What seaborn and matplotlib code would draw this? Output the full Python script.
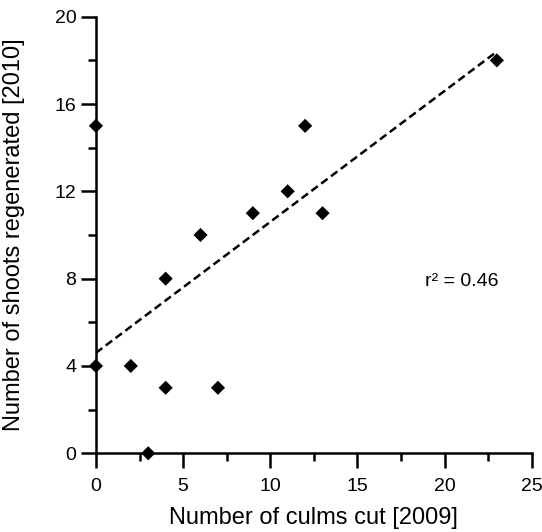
import matplotlib
matplotlib.use("Agg")
import matplotlib.pyplot as plt
import seaborn as sns
import pandas as pd
from matplotlib.ticker import MultipleLocator

# Data
culms_cut = [0, 0, 2, 3, 4, 4, 6, 7, 9, 11, 12, 13, 23]
shoots_regen = [15, 4, 4, 0, 8, 3, 10, 3, 11, 12, 15, 11, 18]
trend_x = [0, 23]
trend_y = [4.6, 18.4]
r2_label = "r\u00b2 = 0.46"
x_ticks = [0, 5, 10, 15, 20, 25]
y_ticks = [0, 4, 8, 12, 16, 20]

df = pd.DataFrame({"x": culms_cut, "y": shoots_regen})
trend = pd.DataFrame({"x": trend_x, "y": trend_y})

sns.set_theme(style="ticks")
plt.rcParams["font.family"] = ["Liberation Sans", "DejaVu Sans"]

fig = plt.figure(figsize=(5.42, 5.32), dpi=100)
ax = fig.add_axes([0.177, 0.148, 0.804, 0.8206])

sns.lineplot(data=trend, x="x", y="y", ax=ax, color="black", lw=1.8,
             dashes=False, linestyle=(0, (3.2, 1.7)))
sns.scatterplot(data=df, x="x", y="y", ax=ax, marker="D", s=52,
                color="black", edgecolor="none", zorder=5, clip_on=False)

ax.set_xlim(0, 25)
ax.set_ylim(0, 20)
ax.set_xticks(x_ticks)
ax.set_yticks(y_ticks)
ax.xaxis.set_minor_locator(MultipleLocator(2.5))
ax.yaxis.set_minor_locator(MultipleLocator(2))

for s in ["top", "right"]:
    ax.spines[s].set_visible(False)
for s in ["left", "bottom"]:
    ax.spines[s].set_linewidth(1.8)
    ax.spines[s].set_color("black")

ax.tick_params(axis="both", which="major", length=10.5, width=1.8,
               direction="out", labelsize=14, colors="black")
ax.tick_params(axis="x", which="major", pad=7)
ax.tick_params(axis="y", which="major", pad=3.5)
ax.tick_params(axis="both", which="minor", length=6, width=1.8,
               direction="out", colors="black")

ax.set_xlabel("Number of culms cut [2009]", fontsize=17, color="black")
ax.set_ylabel("Number of shoots regenerated [2010]", fontsize=17, color="black")
ax.xaxis.set_label_coords(0.5, -0.124)
ax.yaxis.set_label_coords(-0.162, 0.5)

ax.text(18.9, 7.85, r2_label, fontsize=14, ha="left", va="center", color="black")

fig.savefig("out.png", dpi=100)
